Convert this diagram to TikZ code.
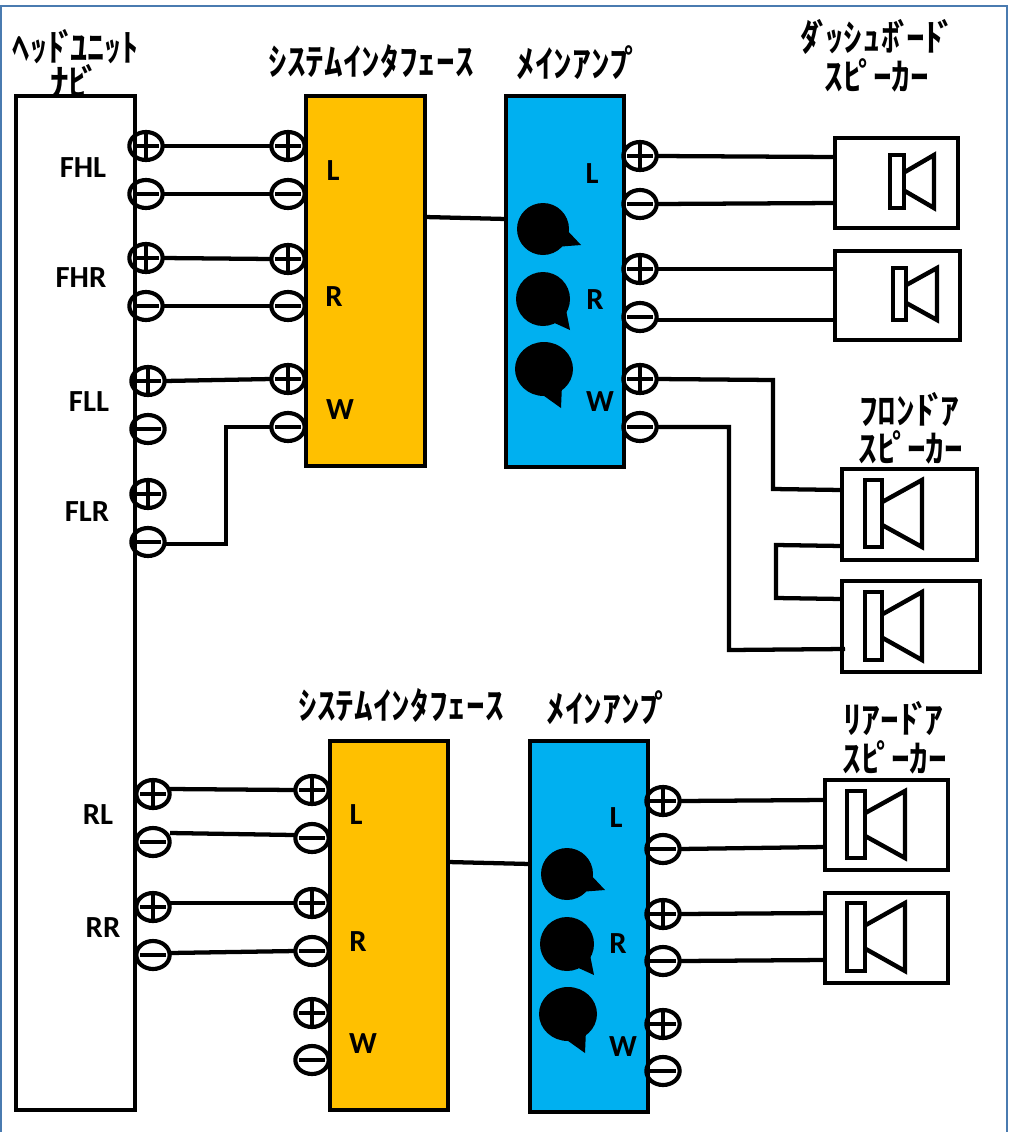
\documentclass[tikz,border=0pt]{standalone}
\usepackage{fontspec}
\setmainfont{Carlito}
\newfontfamily\jpf{Noto Sans CJK JP}[BoldFont={Noto Sans CJK JP Bold}]
\usetikzlibrary{shapes.geometric}
\definecolor{orangeBox}{HTML}{FFC000}
\definecolor{blueBox}{HTML}{00B0F0}
\definecolor{frameBlue}{HTML}{4A7BB0}
\newcommand{\dk}{\kern-0.17emﾞ\kern-0.16em}
\newcommand{\hd}{\kern-0.1emﾟ\kern-0.1em}
\tikzset{
  x=0.75pt,y=-0.75pt,
  thin wire/.style={line width=3.2pt,black},
  termbase/.style={ellipse,draw=black,line width=3.1pt,inner sep=0pt,outer sep=0pt,
     minimum width=25pt,minimum height=21pt},
  termP/.style={termbase,path picture={
     \draw[line width=2.6pt] ([xshift=-9.5pt]path picture bounding box.center)--([xshift=9.5pt]path picture bounding box.center);
     \draw[line width=2.6pt] ([yshift=-9pt]path picture bounding box.center)--([yshift=9pt]path picture bounding box.center);}},
  termM/.style={termbase,path picture={
     \draw[line width=2.6pt] ([xshift=-9.5pt]path picture bounding box.center)--([xshift=9.5pt]path picture bounding box.center);}},
  block/.style={draw=black,line width=3.6pt,inner sep=0pt,outer sep=0pt},
  hd/.style={block,fill=white},
  orangeblock/.style={block,fill=orangeBox},
  blueblock/.style={block,fill=blueBox},
  spk/.style={draw=black,line width=3.3pt,inner sep=0pt,outer sep=0pt,fill=white},
  lab/.style={font=\bfseries\fontsize{23}{23}\selectfont,inner sep=0pt},
  ttl/.style={font=\jpf\bfseries\fontsize{28}{28}\selectfont,inner sep=0pt},
  bubble/.style={fill=black,draw=none},
}
\newcommand{\boxat}[6]{\node[#2,minimum width={(#5-#3)*0.75pt},minimum height={(#6-#4)*0.75pt}] (#1) at ({(#3+#5)/2},{(#4+#6)/2}) {};}
\newcommand{\speaker}[5]{%
  \draw[line width=3.3pt,fill=white] (#1,#2) rectangle (#3,#4);
  \draw[line width=3.3pt,line join=miter] (#3,{#2+(#4-#2)*0.33}) -- (#5,#2) -- (#5,#4) -- (#3,{#2+(#4-#2)*0.67});}
\newcommand{\tP}[3]{\node[termP] (#1) at (#2,#3) {};}
\newcommand{\tM}[3]{\node[termM] (#1) at (#2,#3) {};}
\begin{document}
\begin{tikzpicture}
\useasboundingbox (0,0) rectangle (1009,1132);
\fill[white] (0,0) rectangle (1009,1132);
\draw[frameBlue,line width=2pt] (1,1132) -- (1,6) -- (1007,6) -- (1007,1132);

% blocks
\boxat{head}{hd}{16}{96}{135}{1110}
\boxat{if1}{orangeblock}{306}{96}{425}{466}
\boxat{amp1}{blueblock}{506}{96}{624}{467}
\boxat{if2}{orangeblock}{330}{741}{448}{1110}
\boxat{amp2}{blueblock}{530}{741}{648}{1112}

% speaker boxes
\boxat{s1}{spk}{835}{138}{958}{228}
\boxat{s2}{spk}{835}{251}{960}{340}
\boxat{s3}{spk}{842}{469}{977}{560}
\boxat{s4}{spk}{842}{581}{980}{672}
\boxat{s5}{spk}{825}{780}{948}{870}
\boxat{s6}{spk}{825}{893}{948}{983}
\speaker{890}{155}{904}{208}{934}
\speaker{893}{268}{906}{320}{937}
\speaker{865}{480}{882}{547}{922}
\speaker{865}{592}{882}{660}{922}
\speaker{847}{791}{865}{858}{905}
\speaker{847}{903}{865}{971}{905}

% head terminals
\tP{hFHLp}{146}{146}\tM{hFHLm}{146}{194}
\tP{hFHRp}{146}{258}\tM{hFHRm}{146}{306}
\tP{hFLLp}{148}{381}\tM{hFLLm}{148}{429}
\tP{hFLRp}{148}{494}\tM{hFLRm}{148}{542}
\tP{hRLp}{153}{794}\tM{hRLm}{153}{842}
\tP{hRRp}{153}{907}\tM{hRRm}{153}{955}
% interface 1
\tP{aLp}{288}{146}\tM{aLm}{288}{194}
\tP{aRp}{288}{259}\tM{aRm}{288}{306}
\tP{aWp}{288}{379}\tM{aWm}{288}{427}
% amp 1
\tP{bLp}{640}{156}\tM{bLm}{640}{204}
\tP{bRp}{640}{269}\tM{bRm}{640}{317}
\tP{bWp}{640}{379}\tM{bWm}{640}{427}
% interface 2
\tP{cLp}{312}{790}\tM{cLm}{312}{838}
\tP{cRp}{312}{903}\tM{cRm}{312}{951}
\tP{cWp}{312}{1013}\tM{cWm}{312}{1060}
% amp 2
\tP{dLp}{663}{801}\tM{dLm}{663}{849}
\tP{dRp}{663}{914}\tM{dRm}{663}{961}
\tP{dWp}{663}{1024}\tM{dWm}{663}{1071}

% ports and bends
\coordinate (if1r) at (425,217); \coordinate (amp1l) at (506,219);
\coordinate (if2r) at (448,862); \coordinate (amp2l) at (530,864);
\coordinate (s1a) at (835,157); \coordinate (s1b) at (835,203);
\coordinate (s2a) at (835,269); \coordinate (s2b) at (835,320);
\coordinate (s3a) at (842,490); \coordinate (s3b) at (842,546);
\coordinate (s4a) at (842,599); \coordinate (s4b) at (845,649);
\coordinate (s5a) at (825,800); \coordinate (s5b) at (825,847);
\coordinate (s6a) at (825,913); \coordinate (s6b) at (825,960);
\coordinate (k1) at (226,544); \coordinate (k2) at (226,427);
\coordinate (k3) at (773,380); \coordinate (k4) at (773,489);
\coordinate (k5) at (729,427); \coordinate (k6) at (729,650);
\coordinate (k7) at (776,545); \coordinate (k8) at (776,598);

% connectors
\foreach \p/\q in {hFHLp/aLp,hFHLm/aLm,hFHRp/aRp,hFHRm/aRm,hFLLp/aWp}
  \draw[thin wire] (\p.east) -- (\q.west);
\coordinate (rlp) at (170,789); \coordinate (rlm) at (170,833); \coordinate (rlme) at (294,835);
\coordinate (rrp) at (170,903); \coordinate (rrm) at (170,953);
\draw[thin wire] (rlp) -- (cLp.west);
\draw[thin wire] (rlm) -- (rlme);
\draw[thin wire] (rrp) -- (cRp.west);
\draw[thin wire] (rrm) -- (cRm.west);
\draw[thin wire] (hFLRm.east |- k1) -- (k1) -- (k2) -- (aWm.west);
\draw[thin wire] (if1r) -- (amp1l);
\draw[thin wire] (if2r) -- (amp2l);
\foreach \p/\q in {bLp/s1a,bLm/s1b,bRp/s2a,dLp/s5a,dLm/s5b,dRp/s6a,dRm/s6b}
  \draw[thin wire] (\p.east) -- (\q);
\draw[thin wire] (bRm.east |- s2b) -- (s2b);
\draw[thin wire] (bWp.east) -- (k3) -- (k4) -- (s3a);
\draw[thin wire] (bWm.east) -- (k5) -- (k6) -- (s4b);
\draw[thin wire] (s3b) -- (k7) -- (k8) -- (s4a);

% speech bubbles
\foreach \dx/\dy in {0/0,24/645}{
  \begin{scope}[shift={(\dx,\dy)}]
  \fill[bubble] (543,229) circle[radius=26];
  \fill[bubble] (565,228) -- (581,245) -- (555,247) -- cycle;
  \fill[bubble] (543,299) circle[radius=27];
  \fill[bubble] (566,310) -- (570,330) -- (548,320) -- cycle;
  \fill[bubble] (544,369) ellipse[x radius=29,y radius=27];
  \fill[bubble] (562,385) -- (561,408) -- (540,393) -- cycle;
  \end{scope}
}

% labels
\node[lab] (t1) at (83,168) {FHL};
\node[lab] (t2) at (81,278) {FHR};
\node[lab] (t3) at (89,402) {FLL};
\node[lab] (t4) at (87,512) {FLR};
\node[lab] (t5) at (98,815) {RL};
\node[lab] (t6) at (103,928) {RR};
\node[lab] (t7) at (333,171) {L};
\node[lab] (t8) at (334,297) {R};
\node[lab] (t9) at (340,410) {W};
\node[lab] (t10) at (592,174) {L};
\node[lab] (t11) at (595,300) {R};
\node[lab] (t12) at (600,402) {W};
\node[lab] (t13) at (356,815) {L};
\node[lab] (t14) at (358,942) {R};
\node[lab] (t15) at (363,1044) {W};
\node[lab] (t16) at (616,818) {L};
\node[lab] (t17) at (618,944) {R};
\node[lab] (t18) at (623,1047) {W};

% titles
\node[ttl,xscale=0.92] (h1) at (76,47) {ﾍｯﾄ\dk ﾕﾆｯﾄ};
\node[ttl] (h2) at (72,82) {ﾅﾋ\dk};
\node[ttl] (h3) at (371,61) {ｼｽﾃﾑｲﾝﾀﾌｪｰｽ};
\node[ttl] (h4) at (578,63) {ﾒｲﾝｱﾝﾌ\hd};
\node[ttl] (h5) at (875,37) {ﾀ\dk ｯｼｭﾎ\dk ｰﾄ\dk};
\node[ttl] (h6) at (877,75) {ｽﾋ\hd ｰｶｰ};
\node[ttl] (h7) at (909,410) {ﾌﾛﾝﾄ\dk ｱ};
\node[ttl] (h8) at (911,447) {ｽﾋ\hd ｰｶｰ};
\node[ttl] (h9) at (401,705) {ｼｽﾃﾑｲﾝﾀﾌｪｰｽ};
\node[ttl] (h10) at (608,708) {ﾒｲﾝｱﾝﾌ\hd};
\node[ttl] (h11) at (893,719) {ﾘｱｰﾄ\dk ｱ};
\node[ttl] (h12) at (895,757) {ｽﾋ\hd ｰｶｰ};
\end{tikzpicture}
\end{document}
